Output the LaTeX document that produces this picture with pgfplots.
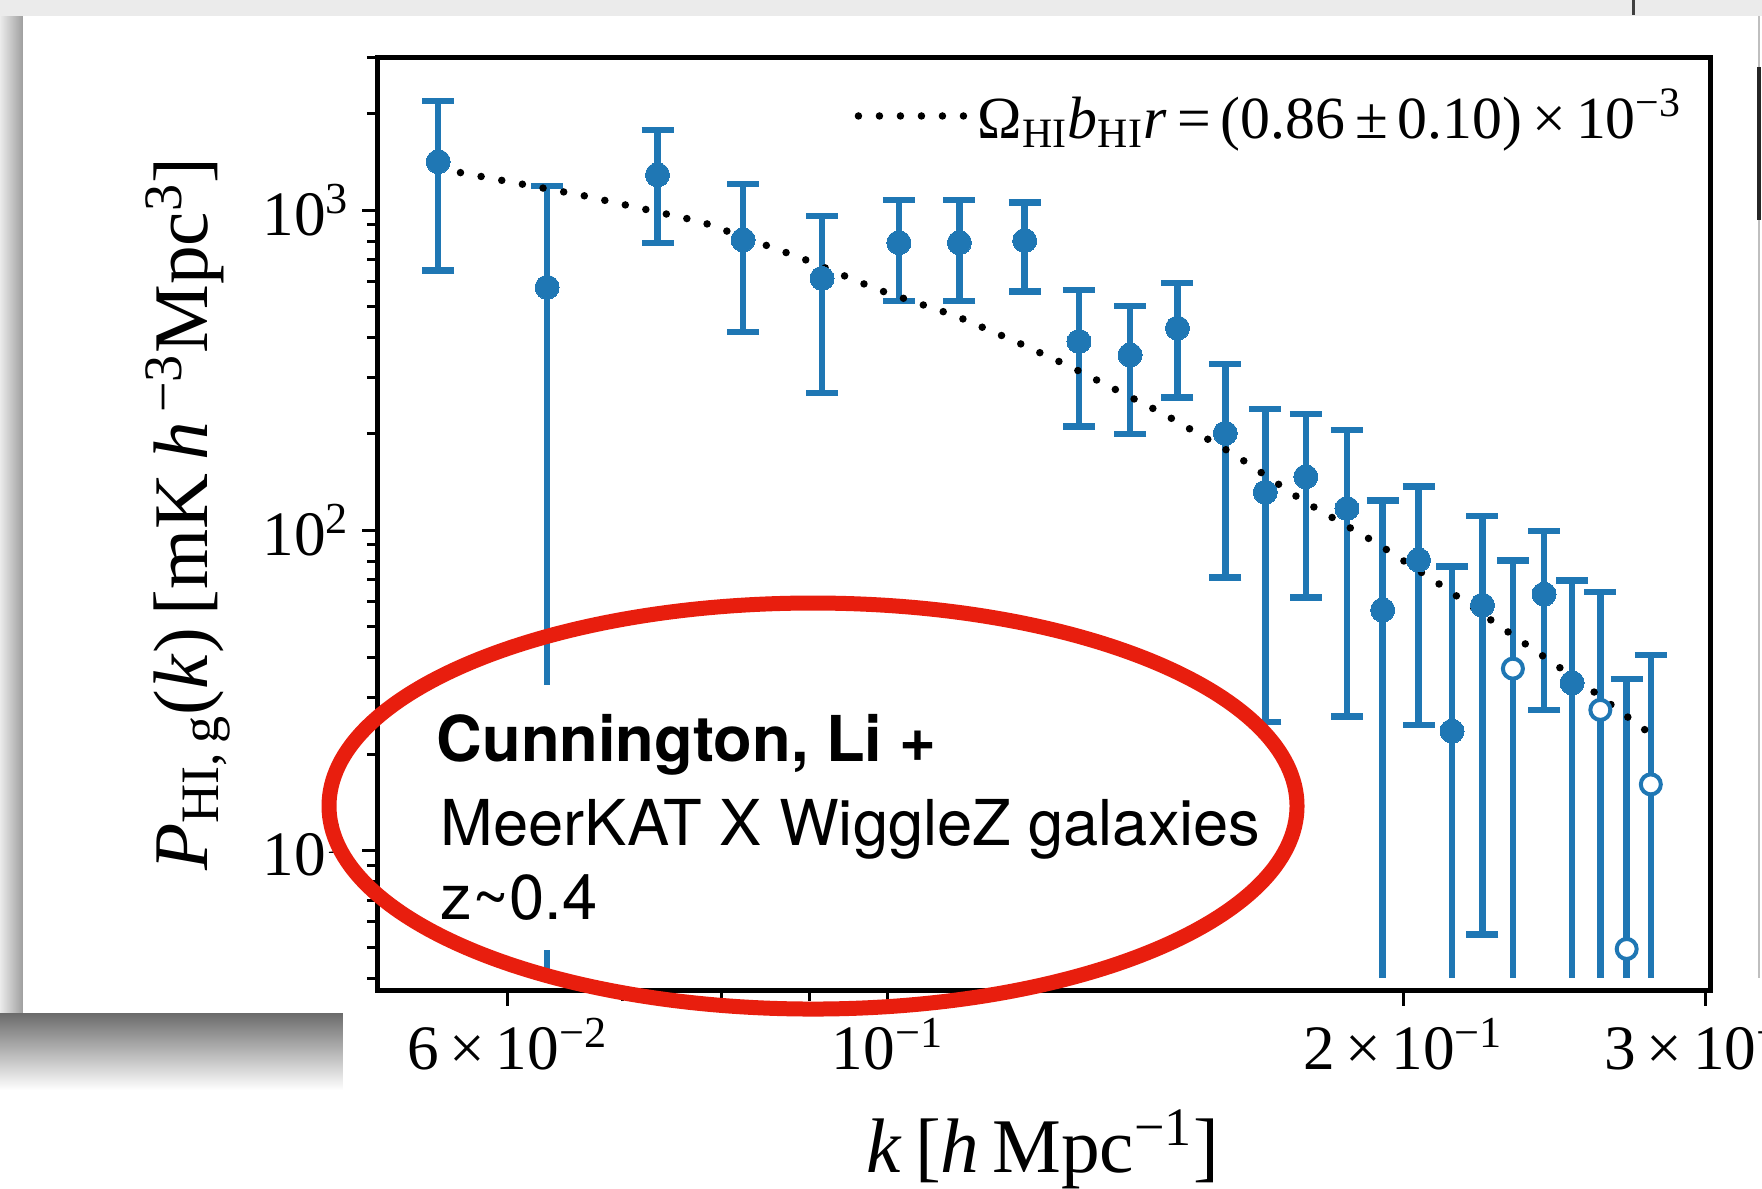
\documentclass[border=0pt]{standalone}
\usepackage{pgfplots}
\pgfplotsset{compat=1.18}
\usepackage{pgfplotstable}
\usepackage{fontspec}
\setmainfont{Liberation Serif}
\newfontfamily\heros{TeX Gyre Heros}
\definecolor{tabblue}{RGB}{31,119,180}
\definecolor{annred}{RGB}{232,30,14}

\pgfplotstableread{
k P hi lo
0.05464 1416 2189 647
0.06326 574 1190 0.1
0.07338 1288 1779 788
0.08232 807 1207 416
0.09154 612 959 268
0.1015 791 1076 520
0.1101 791 1076 520
0.1202 803 1055 556
0.1293 389 563 211
0.1385 353 502 200
0.1476 428 591 260
0.1574 201 331 71.2
0.1661 131.5 239 25.2
0.1754 147 231 61.6
0.1854 117 206 26.2
0.1945 56.4 124 0.1
0.2041 80.8 137 24.7
0.2135 23.6 77.2 0.1
0.2224 58.4 111 5.47
0.2416 63.2 99.5 27.5
0.2509 33.4 69.8 0.1
}\filledtab

\pgfplotstableread{
k P hi lo
0.2317 37.0 80.4 0.1
0.2606 27.5 64.1 0.1
0.2700 4.93 34.4 0.1
0.2789 16.1 40.8 0.1
}\opentab

\pgfplotstableread{
k P
0.0563 1309
0.0664 1110
0.0778 920
0.0891 707
0.0987 564
0.1096 467
0.1187 389
0.1277 325
0.1449 231
0.1595 172
0.1746 124
0.1927 91.6
0.2116 66.0
0.2317 47.0
0.2536 33.7
0.2774 23.6
}\modeltab

\pgfplotsset{
  ebar/.style={forget plot, only marks, mark=*, mark size=0pt,
    mark options={draw=none, fill=none},
    error bars/.cd, y dir=both, y explicit, error mark=-,
    error bar style={line width=0.65mm, draw=tabblue},
    error mark options={rotate=90, draw=tabblue, line width=0.65mm, mark size=1.6mm}},
}

\begin{document}
\begin{tikzpicture}
\begin{scope}[x=0.1mm,y=-0.1mm]
\path[use as bounding box] (0,0) rectangle (1762,1188);
\fill[white] (0,0) rectangle (1762,1188);
\fill[black!8] (0,0) rectangle (1762,16);
\draw[black!75, line width=0.3mm] (1633,0) -- (1633,15);
\shade[left color=black!8, right color=black!38] (0,16) rectangle (23,1013);
\shade[top color=black!58, bottom color=white] (0,1013) rectangle (343,1090);
\fill[white] (23,16) rectangle (1759,1013);
\draw[black!25, line width=0.2mm] (1759,16) -- (1759,978);
\draw[black!85, line width=0.35mm] (1759,67) -- (1759,220);
\fill[white] (343,978) rectangle (1762,1188);
\end{scope}

\begin{axis}[
  at={(37.8mm,-99.0mm)}, anchor=south west,
  scale only axis, width=133.2mm, height=93.3mm,
  xmode=log, ymode=log,
  xmin=0.05039, xmax=0.302, ymin=3.67, ymax=3006,
  axis on top,
  axis line style={line width=0.5mm, black},
  tick pos=left, tick align=outside,
  major tick length=1.6mm, minor tick length=1.1mm,
  tick style={black, line width=0.3mm},
  xtick={0.06,0.1,0.2,0.3},
  xticklabels={6\,×\,10\textsuperscript{−2}, 10\textsuperscript{−1}, 2\,×\,10\textsuperscript{−1}, 3\,×\,10\textsuperscript{−1}},
  minor xtick={0.07,0.08,0.09},
  ytick={10,100,1000},
  yticklabels={10\textsuperscript{1},10\textsuperscript{2},10\textsuperscript{3}},
  minor ytick={4,5,6,7,8,9,20,30,40,50,60,70,80,90,200,300,400,500,600,700,800,900,2000,3000},
  tick label style={font=\fontsize{18}{21}\selectfont},
  xlabel={\textit{k}\,[\textit{h}\,Mpc\textsuperscript{−1}]},
  ylabel={\textit{P}\textsubscript{HI,\,g}(\textit{k})\,[mK\,\textit{h}\textsuperscript{\,−3}Mpc\textsuperscript{3}]},
  label style={font=\fontsize{22}{26}\selectfont},
  xlabel style={at={(axis description cs:0.4992,-0.171)}, anchor=center},
  ylabel style={at={(axis description cs:-0.1426,0.5102)}, anchor=center},
  legend style={at={(axis description cs:0.9854,0.9368)}, anchor=east, draw=none, fill=none,
    inner sep=0pt, outer sep=0pt, nodes={inner sep=0.85mm},
    font=\fontsize{17}{20}\selectfont},
  legend image code/.code={\draw[#1] (0mm,0mm) -- (10.7mm,0mm);},
  clip=true,
]
\addplot[ebar]
  table[x=k, y=P, y error plus expr=\thisrow{hi}-\thisrow{P}, y error minus expr=\thisrow{P}-\thisrow{lo}] {\filledtab};
\addplot[ebar]
  table[x=k, y=P, y error plus expr=\thisrow{hi}-\thisrow{P}, y error minus expr=\thisrow{P}-\thisrow{lo}] {\opentab};
\fill[white] (rel axis cs:0,0) rectangle (rel axis cs:1,0.0129);
\addplot[forget plot, only marks, mark=*, mark size=1.2mm, mark options={draw=tabblue, fill=tabblue, line width=0pt}]
  table[x=k, y=P] {\filledtab};
\addplot[forget plot, only marks, mark=*, mark size=1.0mm, mark options={draw=tabblue, fill=white, line width=0.4mm}]
  table[x=k, y=P] {\opentab};
\addplot[black, line width=0.75mm, line cap=round, dash pattern=on 0pt off 2.1mm]
  table[x=k, y=P] {\modeltab};
\addlegendentry{Ω\textsubscript{HI}\textit{b}\textsubscript{HI}\textit{r}\,=\,(0.86\,±\,0.10)\,×\,10\textsuperscript{−3}}
\end{axis}

\begin{scope}[x=0.1mm,y=-0.1mm]
\fill[white] (393,685) rectangle (1245,950);
\node[anchor=base west, inner sep=0pt, font=\heros\bfseries\fontsize{18}{21}\selectfont] at (436,761) {Cunnington, Li +};
\node[anchor=base west, inner sep=0pt, font=\heros\fontsize{18}{21}\selectfont] at (440,845) {MeerKAT X WiggleZ galaxies};
\node[anchor=base west, inner sep=0pt, font=\heros\fontsize{18}{21}\selectfont] at (440,919) {z\textasciitilde0.4};
\draw[annred, line width=1.5mm] (813,806) ellipse [x radius=484, y radius=203];
\end{scope}
\pgfresetboundingbox
\path[use as bounding box] (0,0) rectangle (176.2mm,-118.8mm);
\end{tikzpicture}
\end{document}
